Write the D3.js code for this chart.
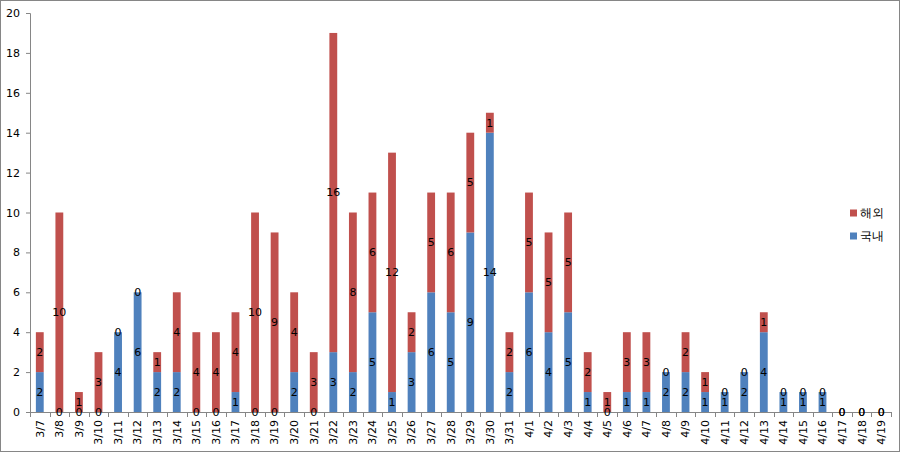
<!DOCTYPE html>
<html><head><meta charset="utf-8">
<script src="https://cdn.jsdelivr.net/npm/d3@7"></script>
<style>body{margin:0;background:#fff}svg{display:block}text{font-family:"DejaVu Sans",sans-serif}</style>
</head><body><svg id="c" width="900" height="452"></svg>
<script>
const dates = ["3/7","3/8","3/9","3/10","3/11","3/12","3/13","3/14","3/15","3/16","3/17","3/18","3/19","3/20","3/21","3/22","3/23","3/24","3/25","3/26","3/27","3/28","3/29","3/30","3/31","4/1","4/2","4/3","4/4","4/5","4/6","4/7","4/8","4/9","4/10","4/11","4/12","4/13","4/14","4/15","4/16","4/17","4/18","4/19"];
const domestic = [2,0,0,0,4,6,2,2,0,0,1,0,0,2,0,3,2,5,1,3,6,5,9,14,2,6,4,5,1,0,1,1,2,2,1,1,2,4,1,1,1,0,0,0];
const overseas = [2,10,1,3,0,0,1,4,4,4,4,10,9,4,3,16,8,6,12,2,5,6,5,1,2,5,5,5,2,1,3,3,0,2,1,0,0,1,0,0,0,0,0,0];
const yTicks = [0,2,4,6,8,10,12,14,16,18,20];
const seriesNames = ["국내","해외"];
const colors = {"국내":"#4F81BD","해외":"#C0504D"};

const svg = d3.select("#c");
svg.append("rect").attr("x",0.5).attr("y",0.5).attr("width",899).attr("height",451)
  .attr("fill","#fff").attr("stroke","#868686");

const L=30, R=891, T=13, B=412;
const x = d3.scaleBand().domain(dates).range([L,R]).padding(0);
const y = d3.scaleLinear().domain([0,20]).range([B,T]);
const bw = x.bandwidth()*0.4;

const rows = dates.map((d,i)=>({date:d,"국내":domestic[i],"해외":overseas[i]}));
const stacked = d3.stack().keys(seriesNames)(rows);

// bars
stacked.forEach(s=>{
  svg.append("g").selectAll("rect").data(s).join("rect")
    .attr("x",d=>x(d.data.date)+(x.bandwidth()-bw)/2)
    .attr("width",bw)
    .attr("y",d=>y(d[1]))
    .attr("height",d=>y(d[0])-y(d[1]))
    .attr("fill",colors[s.key]);
});

// axes
const gy = svg.append("g").attr("transform",`translate(${L},0)`)
  .call(d3.axisLeft(y).tickValues(yTicks).tickSize(4).tickPadding(6));
gy.select(".domain").attr("stroke","#868686");
gy.selectAll(".tick line").attr("stroke","#868686");
gy.selectAll("text").attr("font-size",11).attr("fill","#000").attr("font-family","DejaVu Sans");

const gx = svg.append("g");
gx.append("line").attr("x1",L).attr("x2",R).attr("y1",B+0.5).attr("y2",B+0.5).attr("stroke","#868686");
const bounds = dates.map(d=>x(d)).concat([x(dates[dates.length-1])+x.step()]);
gx.selectAll("line.t").data(bounds).join("line").attr("class","t")
  .attr("x1",d=>Math.round(d)+0.5).attr("x2",d=>Math.round(d)+0.5)
  .attr("y1",B).attr("y2",B+5).attr("stroke","#868686");
gx.selectAll("text").data(dates).join("text")
  .attr("transform",d=>`translate(${x(d)+x.bandwidth()/2},${B+8}) rotate(-90)`)
  .attr("text-anchor","end").attr("dy","0.35em")
  .attr("font-size",11).attr("fill","#000").text(d=>d);

// data labels
stacked.forEach(s=>{
  svg.append("g").selectAll("text").data(s).join("text")
    .attr("x",d=>x(d.data.date)+x.bandwidth()/2)
    .attr("y",d=>(y(d[0])+y(d[1]))/2)
    .attr("dy","0.35em").attr("text-anchor","middle")
    .attr("font-size",11).attr("fill","#000")
    .text(d=>d[1]-d[0]);
});

// legend
const leg = svg.append("g");
["해외","국내"].forEach((k,i)=>{
  const yy = 213 + i*23;
  leg.append("rect").attr("x",850).attr("y",yy-3.5).attr("width",7).attr("height",7).attr("fill",colors[k]);
  leg.append("text").attr("x",860).attr("y",yy).attr("dy","0.35em")
    .attr("font-size",12).attr("font-family","Noto Sans CJK KR").attr("fill","#000").text(k);
});
</script></body></html>
